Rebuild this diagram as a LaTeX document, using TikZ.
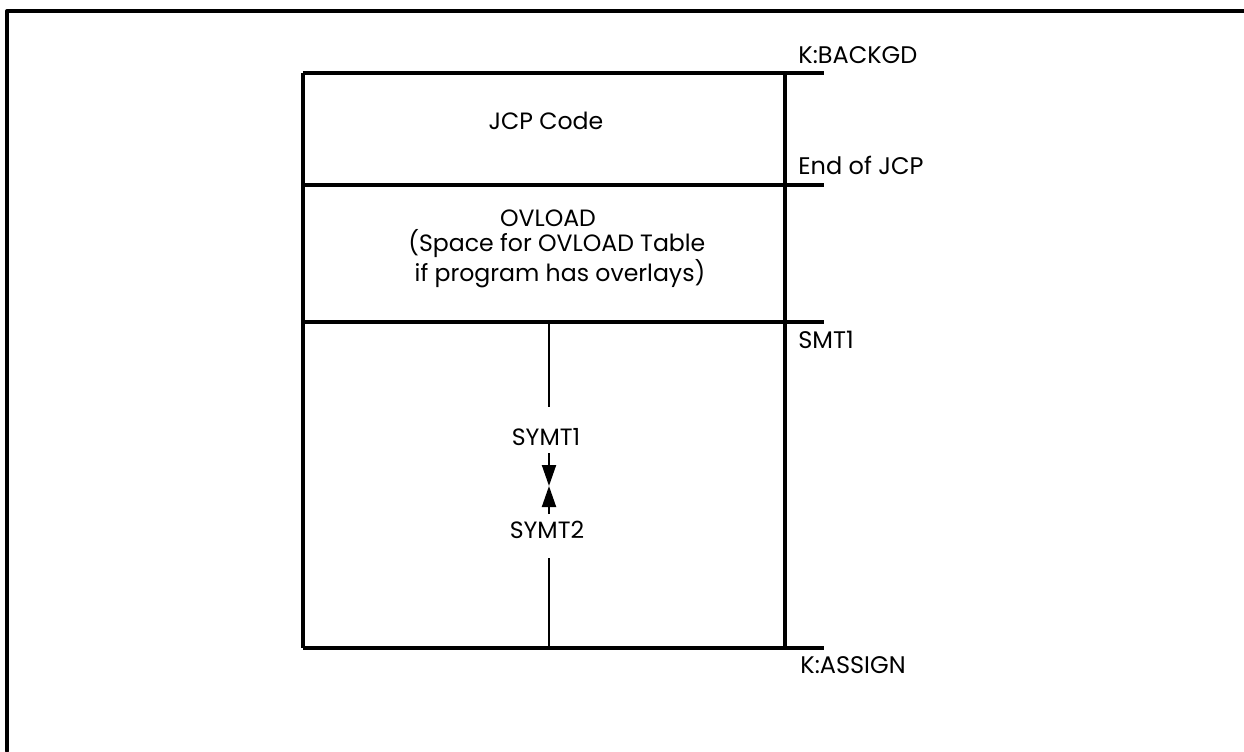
\documentclass[tikz,border=0pt]{standalone}
\usepackage{fontspec}
\setmainfont{Poppins}
\usepackage{tikz}
\usetikzlibrary{
  arrows.meta,
  positioning,
  calc
}

\begin{document}
\begin{tikzpicture}[
  x=0.5pt, y=-0.5pt,
  frame/.style={line width=2pt, line cap=round, line join=round},
  wall/.style={line width=2pt},
  divider/.style={line width=1.8pt},
  stem/.style={line width=1pt},
  ptr/.style={line width=1pt, -{Triangle[length=10.5pt, width=7pt]}},
  lbl/.style={font=\fontsize{12}{11.5}\selectfont, inner sep=0pt, anchor=west},
  txt/.style={font=\fontsize{11.8}{11.5}\selectfont, inner sep=0pt, align=center}
]
  \useasboundingbox (0,0) rectangle (1244,751);

  % outer frame
  \draw[frame] (1244,11) -- (7,11) -- (7,751);

  % memory map
  \coordinate (tl) at (303,73);
  \coordinate (tr) at (824,73);
  \coordinate (jl) at (303,185);
  \coordinate (jr) at (824,185);
  \coordinate (ol) at (303,322);
  \coordinate (or) at (824,322);
  \coordinate (bl) at (303,648);
  \coordinate (br) at (824,648);
  \coordinate (rt) at (785,73);
  \coordinate (rb) at (785,648);

  \draw[wall] (tl) -- (bl);
  \draw[wall] (rt) -- (rb);
  \draw[divider] (tl) -- (tr);
  \draw[divider] (jl) -- (jr);
  \draw[divider] (ol) -- (or);
  \draw[divider] (bl) -- (br);

  % boundary labels
  \node[lbl] (backgd) at (798,55) {K:BACKGD};
  \node[lbl] (endjcp) at (798,165) {End of JCP};
  \node[lbl] (smt) at (798,340) {SMT1};
  \node[lbl] (assign) at (800,665) {K:ASSIGN};

  % areas
  \node[txt] (jcp) at (546,121) {JCP Code};
  \node[txt] (ovload) at (548,218) {OVLOAD};
  \node[txt, anchor=north west, align=left] (ovnote) at (408,229)
    {(Space for OVLOAD Table\\\ if program has overlays)};

  % symbol table pointers
  \node[txt] (symta) at (546,437) {SYMT1};
  \node[txt] (symtb) at (547,530) {SYMT2};
  \coordinate (stemtop) at (549,322);
  \coordinate (stemtopend) at (549,407);
  \coordinate (stembot) at (549,558);
  \coordinate (stembotend) at (549,648);
  \coordinate (ptra) at (549,453);
  \coordinate (ptrb) at (549,514);
  \coordinate (meet) at (549,486);

  \draw[stem] (stemtop) -- (stemtopend);
  \draw[stem] (stembot) -- (stembotend);
  \draw[ptr] (ptra) -- (meet);
  \draw[ptr] (ptrb) -- (meet);
\end{tikzpicture}
\end{document}
